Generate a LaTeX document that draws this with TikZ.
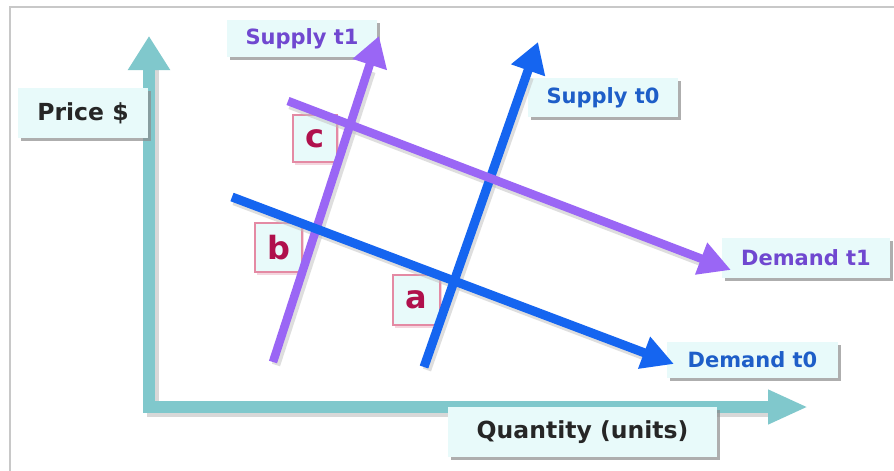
\documentclass[tikz,border=0pt]{standalone}
\usepackage{fontspec}
\setmainfont{DejaVu Sans}
\usetikzlibrary{arrows.meta,shadows,calc}
\definecolor{axiscol}{HTML}{80C8CC}
\definecolor{purp}{HTML}{9A66F5}
\definecolor{blu}{HTML}{1565F0}
\definecolor{purptxt}{HTML}{7048D0}
\definecolor{blutxt}{HTML}{1E5EC8}
\definecolor{boxfill}{HTML}{E8FAFA}
\definecolor{lettxt}{HTML}{B0104C}
\definecolor{letborder}{HTML}{E48AA4}
\definecolor{framecol}{HTML}{C8C8C8}
\tikzset{
  tagbox/.style={fill=boxfill, draw=none, inner sep=0pt, font=\bfseries,
    drop shadow={shadow xshift=2.5pt, shadow yshift=-3pt, fill=black!45, opacity=0.7}},
  axlabel/.style={tagbox, minimum height=50pt, text=black!85,
    font=\fontsize{23.5}{26}\selectfont\bfseries},
  curvelabel/.style={tagbox, font=\fontsize{21}{23}\selectfont\bfseries},
  letbox/.style={fill=boxfill, draw=letborder, line width=1.6pt, inner sep=0pt,
    text=lettxt, font=\fontsize{32}{32}\selectfont\bfseries,
    drop shadow={shadow xshift=2pt, shadow yshift=-2.5pt, fill=letborder!60, opacity=0.6}},
  curve/.style={line width=8.5pt, line cap=butt},
  lshadow/.style={line width=8.5pt, draw=black!25, opacity=0.5},
}
\begin{document}
\begin{tikzpicture}[x=1pt,y=-1pt]
\useasboundingbox (0,0) rectangle (894,471);
\fill[white] (0,0) rectangle (894,471);
% frame
\draw[framecol, line width=1.5pt] (10,471) -- (10,7) -- (894,7);

% axes
\coordinate (ytip) at (149,36);
\coordinate (corner) at (149,407);
\coordinate (xtip) at (808,407);
\draw[black!30, line width=12pt, opacity=0.5] (153,60) -- (153,411) -- (770,411);
\draw[axiscol, line width=12pt, line join=miter,
  {Triangle[width=40pt,length=34pt]}-{Triangle[width=32pt,length=40pt]}]
  (ytip) -- (corner) -- (xtip);

% axis labels
\node[axlabel, minimum width=130pt] (price) at (83,113) {Price \$};
\node[axlabel, minimum width=269pt] (qty) at (582.5,432) {Quantity (units)};

% curve labels
\node[curvelabel, minimum width=150pt, minimum height=37pt, text=purptxt] (s1) at (302,38.5) {Supply t1};
\node[curvelabel, minimum width=150pt, minimum height=39pt, text=blutxt] (s0) at (603,97.5) {Supply t0};
\node[curvelabel, minimum width=168pt, minimum height=40pt, text=purptxt] (d1) at (806,258) {Demand t1};
\node[curvelabel, minimum width=171pt, minimum height=36pt, text=blutxt] (d0) at (752.5,360) {Demand t0};

% point labels
\node[letbox, minimum width=44pt, minimum height=47pt] (c) at (315,138.5) {c};
\node[letbox, minimum width=47pt, minimum height=49pt] (b) at (278.5,247.5) {b};
\node[letbox, minimum width=47pt, minimum height=50pt] (a) at (416.5,300) {a};

% curve endpoints
\coordinate (s1a) at (273,362);
\coordinate (s1b) at (379,36);
\coordinate (s0a) at (424,367);
\coordinate (s0b) at (538,42);
\coordinate (d0a) at (232,197);
\coordinate (d0b) at (674,364);
\coordinate (d1a) at (288,101);
\coordinate (d1b) at (731,270);

% shadows
\draw[lshadow] ($(s1a)+(3,3)$) -- ($(s1a)!0.9!(s1b)+(3,3)$);
\draw[lshadow] ($(s0a)+(3,3)$) -- ($(s0a)!0.9!(s0b)+(3,3)$);
\draw[lshadow] ($(d0a)+(2,4)$) -- ($(d0a)!0.93!(d0b)+(2,4)$);
\draw[lshadow] ($(d1a)+(2,4)$) -- ($(d1a)!0.93!(d1b)+(2,4)$);

% curves
\draw[curve, purp, -{Triangle[width=34pt,length=30pt]}] (s1a) -- (s1b);
\draw[curve, blu, line width=9pt, -{Triangle[width=34pt,length=30pt]}] (s0a) -- (s0b);
\draw[curve, blu, line width=9pt, -{Triangle[width=32pt,length=32pt]}] (d0a) -- (d0b);
\draw[curve, purp, -{Triangle[width=32pt,length=32pt]}] (d1a) -- (d1b);
\end{tikzpicture}
\end{document}
